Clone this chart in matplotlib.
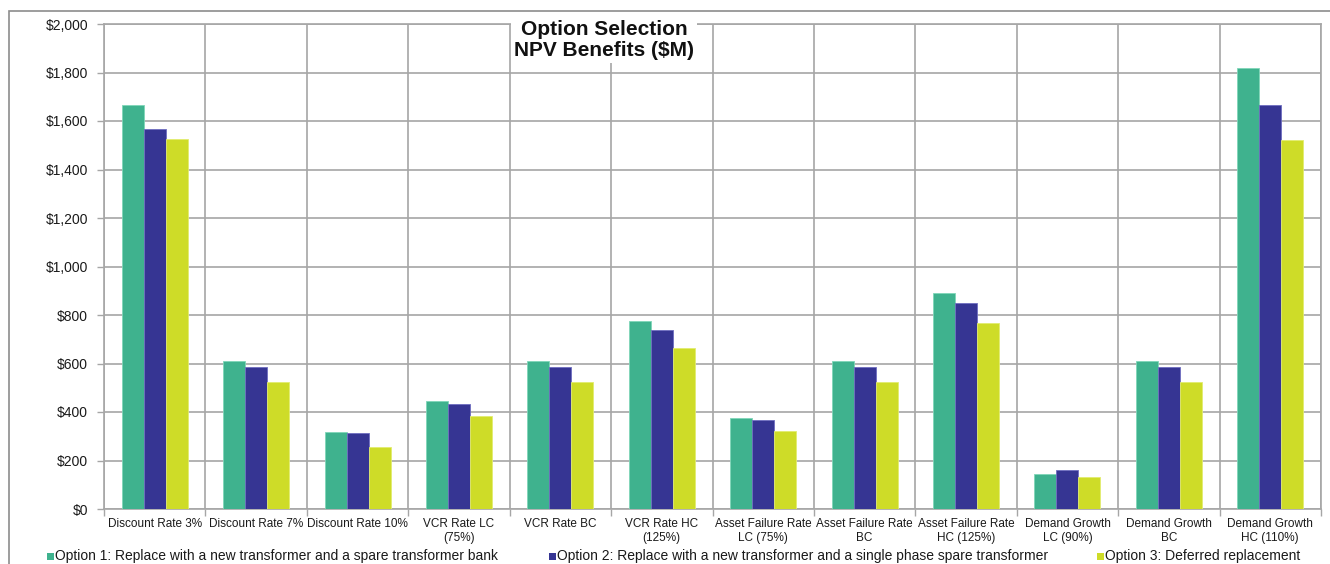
import numpy as np
import matplotlib
matplotlib.use("Agg")
import matplotlib.pyplot as plt
from matplotlib.patches import Rectangle
from matplotlib.ticker import FuncFormatter

plt.rcParams['font.family'] = ['Liberation Sans', 'DejaVu Sans']

# data
categories = ["Discount Rate 3%", "Discount Rate 7%", "Discount Rate 10%",
              "VCR Rate LC\n(75%)", "VCR Rate BC", "VCR Rate HC\n(125%)",
              "Asset Failure Rate\nLC (75%)", "Asset Failure Rate\nBC",
              "Asset Failure Rate\nHC (125%)", "Demand Growth\nLC (90%)",
              "Demand Growth\nBC", "Demand Growth\nHC (110%)"]
option1 = [1665, 610, 318, 447, 610, 774, 377, 610, 889, 145, 610, 1818]
option2 = [1566, 585, 313, 435, 585, 737, 367, 585, 851, 162, 585, 1668]
option3 = [1525, 525, 255, 385, 525, 664, 322, 525, 767, 133, 525, 1522]
series_names = ["Option 1: Replace with a new transformer and a spare transformer bank",
                "Option 2: Replace with a new transformer and a single phase spare transformer",
                "Option 3: Deferred replacement"]
colors = ["#3FB28E", "#363593", "#CEDC28"]
edges = ["#7FD6B8", "#6E6DC0", "#E2EC70"]

W, H = 1330, 564
fig = plt.figure(figsize=(W / 100, H / 100), dpi=100)
ax = fig.add_axes([104 / W, 1 - 509 / H, (1321 - 104) / W, (509 - 24) / H])

x = np.arange(len(categories))
bw = 0.217
for i, vals in enumerate([option1, option2, option3]):
    ax.bar(x + (i - 1) * bw, vals, width=bw, color=colors[i],
           edgecolor=edges[i], linewidth=0.6, zorder=3)

grid_c = "#A6A6A6"
ax.set_ylim(0, 2000)
ax.set_xlim(-0.5, len(categories) - 0.5)
ax.set_yticks(np.arange(0, 2001, 200))
ax.yaxis.set_major_formatter(FuncFormatter(lambda v, p: "${:,.0f}".format(v)))
ax.set_xticks(x)
ax.set_xticklabels(categories, fontsize=8.5, color="#1a1a1a")
ax.set_xticks(np.arange(-0.5, len(categories)), minor=True)
ax.tick_params(axis='x', which='major', length=0, pad=6.5)
ax.tick_params(axis='x', which='minor', length=5, color=grid_c, width=1)
ax.tick_params(axis='y', length=5, color=grid_c, width=1, labelsize=10,
               labelcolor="#1a1a1a", pad=6.5)
ax.grid(axis='y', color=grid_c, linewidth=1.2, zorder=0)
ax.grid(axis='x', which='minor', color=grid_c, linewidth=1.2, zorder=0)
for s in ax.spines.values():
    s.set_color(grid_c)
    s.set_linewidth(1.2)

# title
fig.text(604 / W, 1 - 40 / H, "Option Selection\nNPV Benefits ($M)", ha='center',
         va='center', fontsize=15, fontweight='bold', color="#111111",
         linespacing=1.15,
         bbox=dict(facecolor='white', edgecolor='none', pad=2), zorder=5)

# outer chart border
fig.patches.append(Rectangle((9 / W, -0.2), 1.2, 1.2 - 11 / H, transform=fig.transFigure,
                             fill=False, edgecolor="#8C8C8C", linewidth=1.2))

# legend along the bottom edge
leg_x = [47, 549, 1097]
for i, name in enumerate(series_names):
    fig.patches.append(Rectangle((leg_x[i] / W, 1 - 560 / H), 7 / W, 7 / H,
                                 transform=fig.transFigure, facecolor=colors[i],
                                 edgecolor='none'))
    fig.text((leg_x[i] + 8) / W, 1 - 560 / H, name, ha='left', va='baseline',
             fontsize=10, color="#1a1a1a")

fig.savefig("out.png", dpi=100)
